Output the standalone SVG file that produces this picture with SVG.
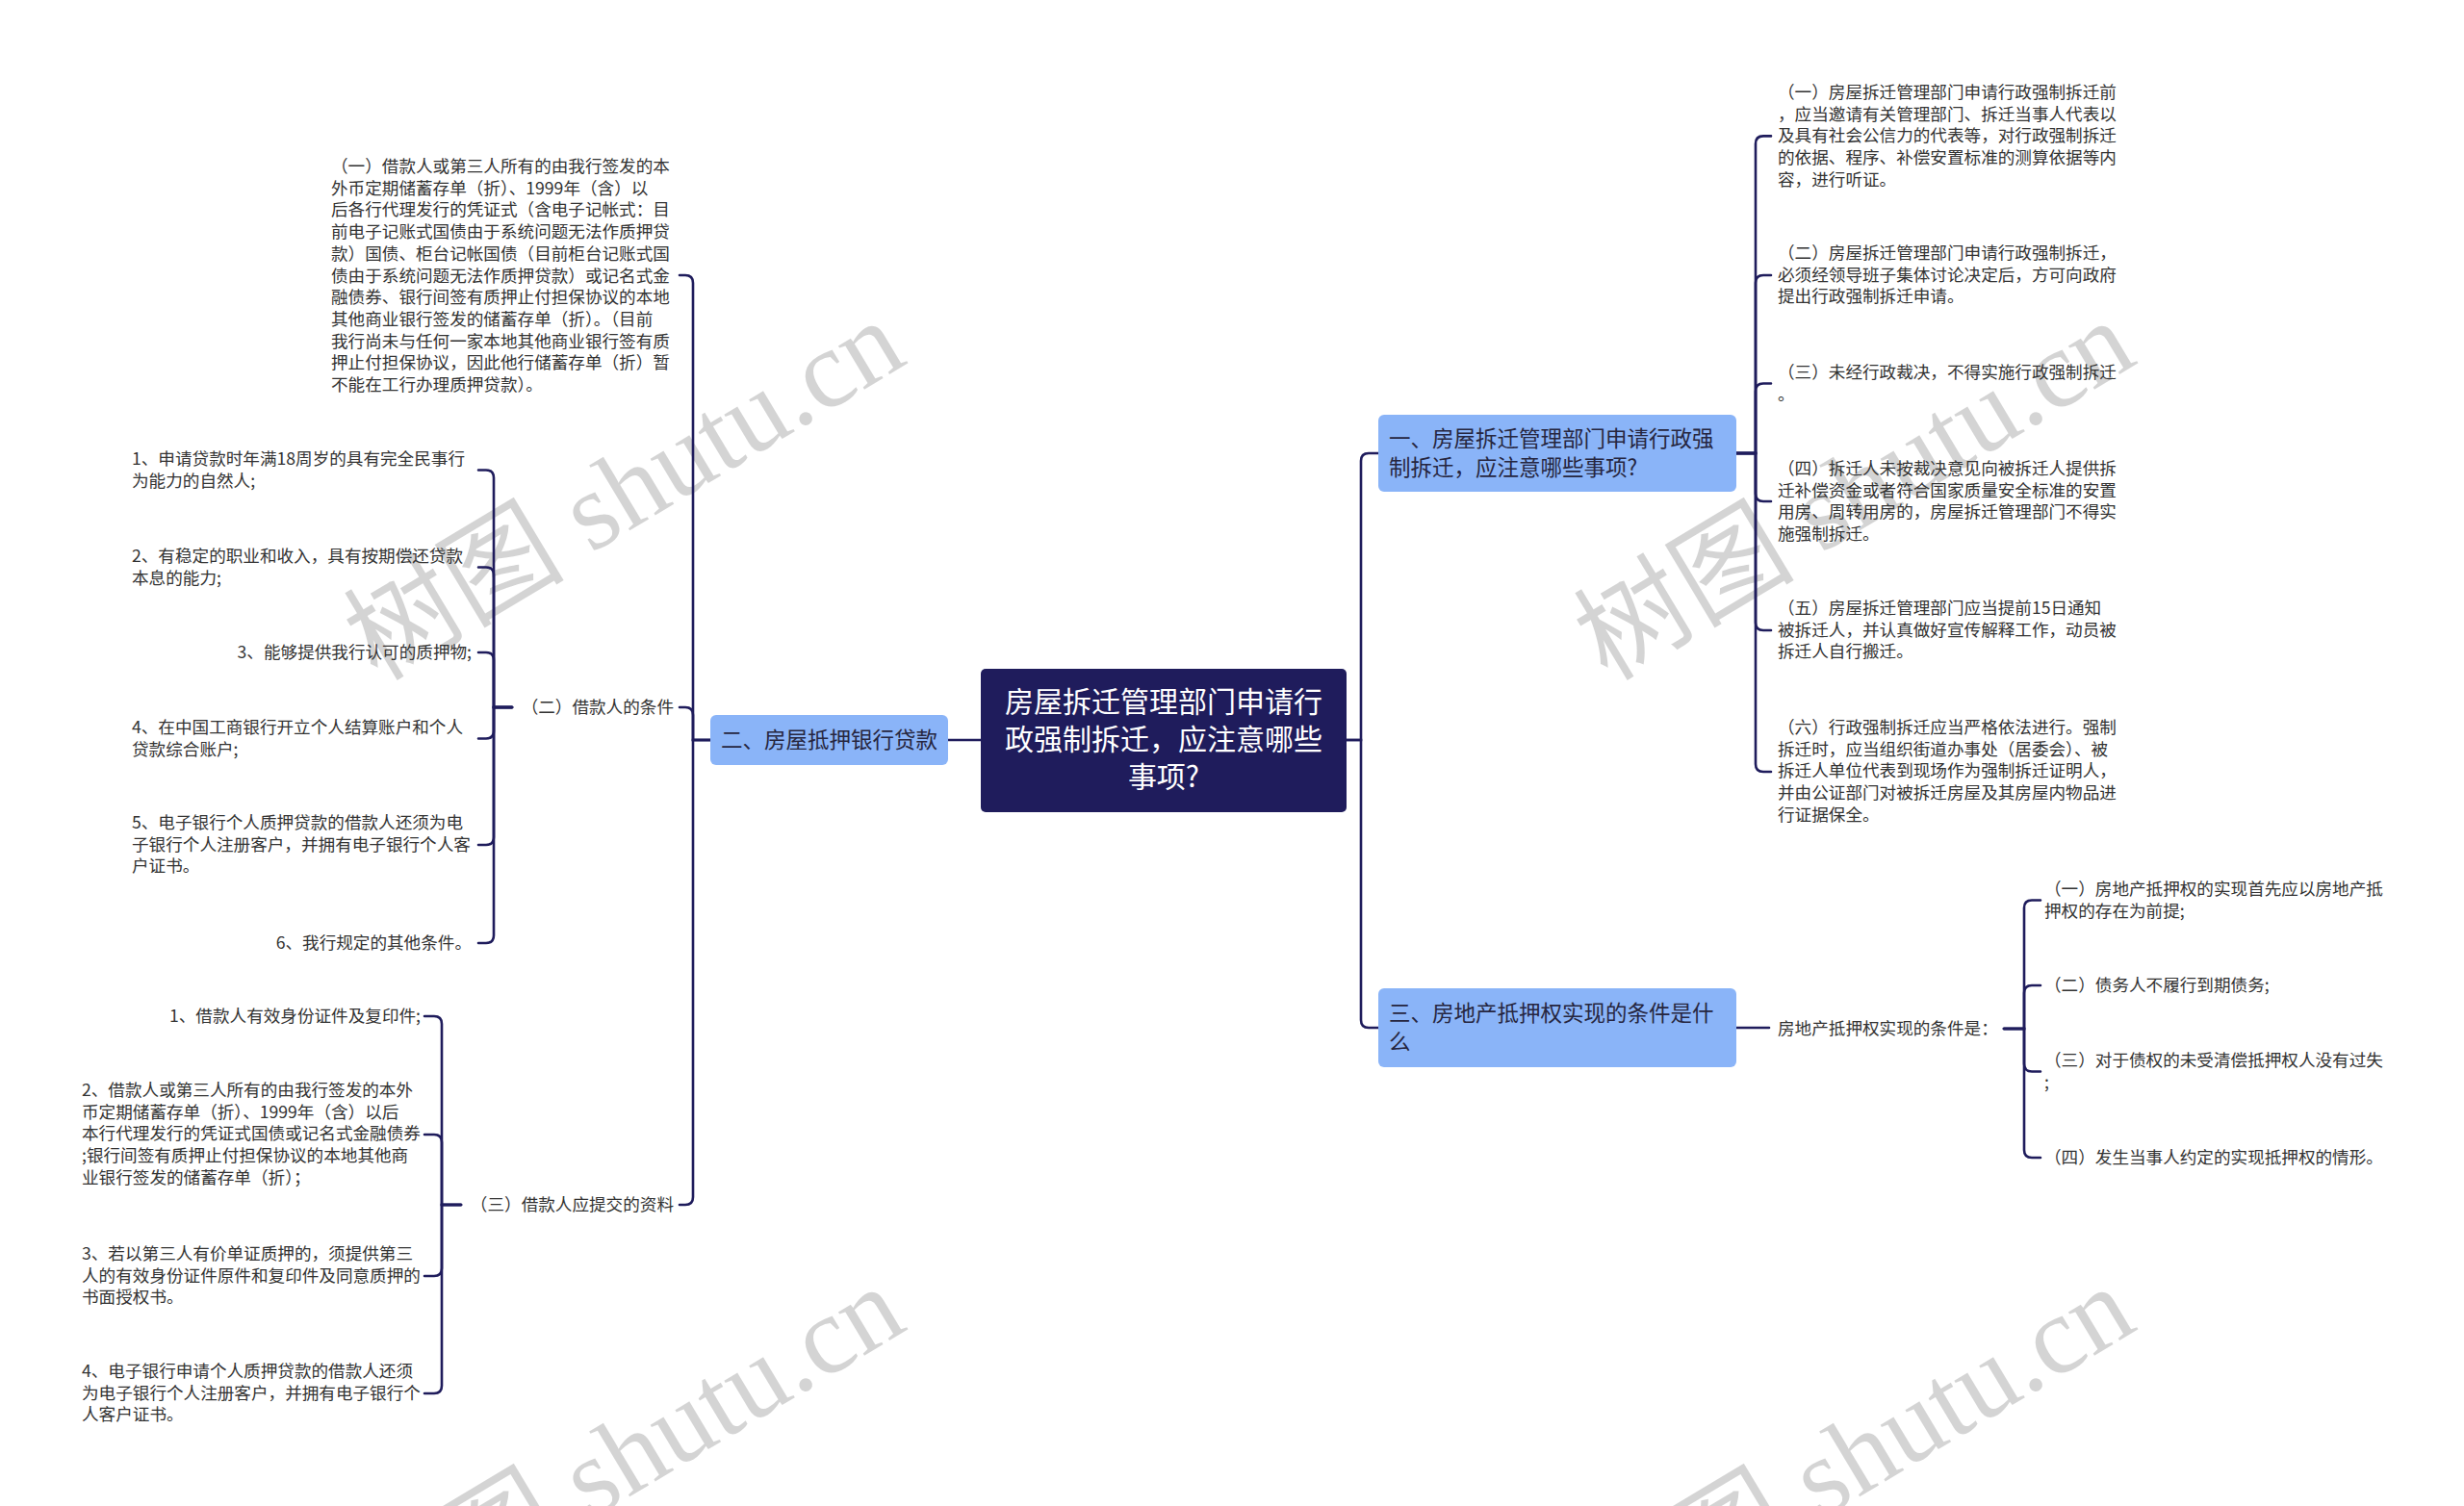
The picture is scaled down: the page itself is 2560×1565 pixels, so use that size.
<svg xmlns="http://www.w3.org/2000/svg" width="2560" height="1565" viewBox="0 0 2560 1565">
<style>
.wm{font-family:"Liberation Serif","Noto Sans CJK SC",serif;font-size:115px;fill:#000;fill-opacity:0.17}
.leaf{font-family:"Noto Sans CJK SC","Noto Sans",sans-serif;font-size:17.6px;fill:#333}
.mid{font-family:"Noto Sans CJK SC","Noto Sans",sans-serif;font-size:17.6px;fill:#333}
.br{fill:#8ab4f8}
.brt{font-family:"Noto Sans CJK SC","Noto Sans",sans-serif;font-size:22.5px;fill:#262640}
.root{fill:#1f1c5c}
.roott{font-family:"Noto Sans CJK SC","Noto Sans",sans-serif;font-size:30px;fill:#fff}
.ln{fill:none;stroke:#1f1c5c;stroke-width:2.6;stroke-linecap:round}
</style>
<rect width="2560" height="1565" fill="#fff"/>
<g id="watermarks">
<text class="wm" transform="translate(649,510) rotate(-31)" x="0" y="38" text-anchor="middle">树图 shutu.cn</text>
<text class="wm" transform="translate(1927,510) rotate(-31)" x="0" y="38" text-anchor="middle">树图 shutu.cn</text>
<text class="wm" transform="translate(649,1514) rotate(-31)" x="0" y="38" text-anchor="middle">树图 shutu.cn</text>
<text class="wm" transform="translate(1927,1514) rotate(-31)" x="0" y="38" text-anchor="middle">树图 shutu.cn</text>
</g>
<g id="connectors">
<!-- center to right branches -->
<path class="ln" d="M1399 769 H1414 V479 Q1414 471 1422 471 H1432"/>
<path class="ln" d="M1399 769 H1414 V1060 Q1414 1068 1422 1068 H1432"/>
<!-- center to left branch -->
<path class="ln" d="M1019 769 H985"/>
<!-- left branch to children -->
<path class="ln" d="M738 769 H720 V294 Q720 286 712 286 H706"/>
<path class="ln" d="M738 769 H720 V743 Q720 735 712 735 H706"/>
<path class="ln" d="M738 769 H720 V1244 Q720 1252 712 1252 H706"/>
<!-- (二) children -->
<path class="ln" d="M532 735 H513 V496.5 Q513 488.5 505 488.5 H497"/>
<path class="ln" d="M532 735 H513 V597.5 Q513 589.5 505 589.5 H497"/>
<path class="ln" d="M532 735 H513 V686 Q513 678 505 678 H497"/>
<path class="ln" d="M532 735 H513 V759.5 Q513 767.5 505 767.5 H497"/>
<path class="ln" d="M532 735 H513 V870 Q513 878 505 878 H497"/>
<path class="ln" d="M532 735 H513 V972 Q513 980 505 980 H497"/>
<!-- (三) children -->
<path class="ln" d="M479 1252 H459 V1064 Q459 1056 451 1056 H441"/>
<path class="ln" d="M479 1252 H459 V1187 Q459 1179 451 1179 H441"/>
<path class="ln" d="M479 1252 H459 V1318 Q459 1326 451 1326 H441"/>
<path class="ln" d="M479 1252 H459 V1440 Q459 1448 451 1448 H441"/>
<!-- node1 children -->
<path class="ln" d="M1804 471 H1824 V149.4 Q1824 141.4 1832 141.4 H1840"/>
<path class="ln" d="M1804 471 H1824 V294 Q1824 286 1832 286 H1840"/>
<path class="ln" d="M1804 471 H1824 V406.5 Q1824 398.5 1832 398.5 H1840"/>
<path class="ln" d="M1804 471 H1824 V513 Q1824 521 1832 521 H1840"/>
<path class="ln" d="M1804 471 H1824 V647 Q1824 655 1832 655 H1840"/>
<path class="ln" d="M1804 471 H1824 V794 Q1824 802 1832 802 H1840"/>
<!-- node3 children -->
<path class="ln" d="M1804 1068 H1838"/>
<path class="ln" d="M2082 1069 H2103 V943.5 Q2103 935.5 2111 935.5 H2120"/>
<path class="ln" d="M2082 1069 H2103 V1032 Q2103 1024 2111 1024 H2120"/>
<path class="ln" d="M2082 1069 H2103 V1105.5 Q2103 1113.5 2111 1113.5 H2120"/>
<path class="ln" d="M2082 1069 H2103 V1195 Q2103 1203 2111 1203 H2120"/>
</g>
<g id="root">
<rect class="root" x="1019" y="695" width="380" height="149" rx="5"/>
<text class="roott" text-anchor="middle"><tspan x="1209" y="740">房屋拆迁管理部门申请行</tspan><tspan x="1209" y="779">政强制拆迁，应注意哪些</tspan><tspan x="1209" y="818">事项?</tspan></text>
</g>
<g id="branch-left">
<rect class="br" x="738" y="743" width="247" height="52" rx="6"/>
<text class="brt" x="749" y="777">二、房屋抵押银行贷款</text>
</g>
<g id="branch-1">
<rect class="br" x="1432" y="431" width="372" height="80" rx="6"/>
<text class="brt"><tspan x="1443" y="464">一、房屋拆迁管理部门申请行政强</tspan><tspan x="1443" y="494">制拆迁，应注意哪些事项?</tspan></text>
</g>
<g id="branch-3">
<rect class="br" x="1432" y="1027" width="372" height="82" rx="6"/>
<text class="brt"><tspan x="1443" y="1061">三、房地产抵押权实现的条件是什</tspan><tspan x="1443" y="1091">么</tspan></text>
</g>
<g id="left-1">
<text class="leaf"><tspan x="344" y="179">（一）借款人或第三人所有的由我行签发的本</tspan><tspan x="344" dy="22.7">外币定期储蓄存单（折）、1999年（含）以</tspan><tspan x="344" dy="22.7">后各行代理发行的凭证式（含电子记帐式：目</tspan><tspan x="344" dy="22.7">前电子记账式国债由于系统问题无法作质押贷</tspan><tspan x="344" dy="22.7">款）国债、柜台记帐国债（目前柜台记账式国</tspan><tspan x="344" dy="22.7">债由于系统问题无法作质押贷款）或记名式金</tspan><tspan x="344" dy="22.7">融债券、银行间签有质押止付担保协议的本地</tspan><tspan x="344" dy="22.7">其他商业银行签发的储蓄存单（折）。（目前</tspan><tspan x="344" dy="22.7">我行尚未与任何一家本地其他商业银行签有质</tspan><tspan x="344" dy="22.7">押止付担保协议，因此他行储蓄存单（折）暂</tspan><tspan x="344" dy="22.7">不能在工行办理质押贷款）。</tspan></text>
</g>
<g id="left-2">
<text class="mid" x="700" y="741" text-anchor="end">（二）借款人的条件</text>
</g>
<g id="left-2-1"><text class="leaf"><tspan x="137" y="483">1、申请贷款时年满18周岁的具有完全民事行</tspan><tspan x="137" dy="22.7">为能力的自然人;</tspan></text></g>
<g id="left-2-2"><text class="leaf"><tspan x="137" y="584">2、有稳定的职业和收入，具有按期偿还贷款</tspan><tspan x="137" dy="22.7">本息的能力;</tspan></text></g>
<g id="left-2-3"><text class="leaf" x="490" y="684" text-anchor="end">3、能够提供我行认可的质押物;</text></g>
<g id="left-2-4"><text class="leaf"><tspan x="137" y="762">4、在中国工商银行开立个人结算账户和个人</tspan><tspan x="137" dy="22.7">贷款综合账户;</tspan></text></g>
<g id="left-2-5"><text class="leaf"><tspan x="137" y="861">5、电子银行个人质押贷款的借款人还须为电</tspan><tspan x="137" dy="22.7">子银行个人注册客户，并拥有电子银行个人客</tspan><tspan x="137" dy="22.7">户证书。</tspan></text></g>
<g id="left-2-6"><text class="leaf" x="490" y="986" text-anchor="end">6、我行规定的其他条件。</text></g>
<g id="left-3">
<text class="mid" x="700" y="1258" text-anchor="end">（三）借款人应提交的资料</text>
</g>
<g id="left-3-1"><text class="leaf" x="437" y="1062" text-anchor="end">1、借款人有效身份证件及复印件;</text></g>
<g id="left-3-2"><text class="leaf"><tspan x="85" y="1139">2、借款人或第三人所有的由我行签发的本外</tspan><tspan x="85" dy="22.7">币定期储蓄存单（折）、1999年（含）以后</tspan><tspan x="85" dy="22.7">本行代理发行的凭证式国债或记名式金融债券</tspan><tspan x="85" dy="22.7">;银行间签有质押止付担保协议的本地其他商</tspan><tspan x="85" dy="22.7">业银行签发的储蓄存单（折）；</tspan></text></g>
<g id="left-3-3"><text class="leaf"><tspan x="85" y="1309">3、若以第三人有价单证质押的，须提供第三</tspan><tspan x="85" dy="22.7">人的有效身份证件原件和复印件及同意质押的</tspan><tspan x="85" dy="22.7">书面授权书。</tspan></text></g>
<g id="left-3-4"><text class="leaf"><tspan x="85" y="1431">4、电子银行申请个人质押贷款的借款人还须</tspan><tspan x="85" dy="22.7">为电子银行个人注册客户，并拥有电子银行个</tspan><tspan x="85" dy="22.7">人客户证书。</tspan></text></g>
<g id="right-1-1"><text class="leaf"><tspan x="1847" y="102">（一）房屋拆迁管理部门申请行政强制拆迁前</tspan><tspan x="1847" dy="22.7">，应当邀请有关管理部门、拆迁当事人代表以</tspan><tspan x="1847" dy="22.7">及具有社会公信力的代表等，对行政强制拆迁</tspan><tspan x="1847" dy="22.7">的依据、程序、补偿安置标准的测算依据等内</tspan><tspan x="1847" dy="22.7">容，进行听证。</tspan></text></g>
<g id="right-1-2"><text class="leaf"><tspan x="1847" y="269">（二）房屋拆迁管理部门申请行政强制拆迁，</tspan><tspan x="1847" dy="22.7">必须经领导班子集体讨论决定后，方可向政府</tspan><tspan x="1847" dy="22.7">提出行政强制拆迁申请。</tspan></text></g>
<g id="right-1-3"><text class="leaf"><tspan x="1847" y="393">（三）未经行政裁决，不得实施行政强制拆迁</tspan><tspan x="1847" dy="22.7">。</tspan></text></g>
<g id="right-1-4"><text class="leaf"><tspan x="1847" y="493">（四）拆迁人未按裁决意见向被拆迁人提供拆</tspan><tspan x="1847" dy="22.7">迁补偿资金或者符合国家质量安全标准的安置</tspan><tspan x="1847" dy="22.7">用房、周转用房的，房屋拆迁管理部门不得实</tspan><tspan x="1847" dy="22.7">施强制拆迁。</tspan></text></g>
<g id="right-1-5"><text class="leaf"><tspan x="1847" y="638">（五）房屋拆迁管理部门应当提前15日通知</tspan><tspan x="1847" dy="22.7">被拆迁人，并认真做好宣传解释工作，动员被</tspan><tspan x="1847" dy="22.7">拆迁人自行搬迁。</tspan></text></g>
<g id="right-1-6"><text class="leaf"><tspan x="1847" y="762">（六）行政强制拆迁应当严格依法进行。强制</tspan><tspan x="1847" dy="22.7">拆迁时，应当组织街道办事处（居委会）、被</tspan><tspan x="1847" dy="22.7">拆迁人单位代表到现场作为强制拆迁证明人，</tspan><tspan x="1847" dy="22.7">并由公证部门对被拆迁房屋及其房屋内物品进</tspan><tspan x="1847" dy="22.7">行证据保全。</tspan></text></g>
<g id="right-3"><text class="mid" x="1847" y="1075">房地产抵押权实现的条件是：</text></g>
<g id="right-3-1"><text class="leaf"><tspan x="2124" y="930">（一）房地产抵押权的实现首先应以房地产抵</tspan><tspan x="2124" dy="22.7">押权的存在为前提;</tspan></text></g>
<g id="right-3-2"><text class="leaf" x="2124" y="1030">（二）债务人不履行到期债务;</text></g>
<g id="right-3-3"><text class="leaf"><tspan x="2124" y="1108">（三）对于债权的未受清偿抵押权人没有过失</tspan><tspan x="2124" dy="22.7">;</tspan></text></g>
<g id="right-3-4"><text class="leaf" x="2124" y="1209">（四）发生当事人约定的实现抵押权的情形。</text></g>
</svg>
